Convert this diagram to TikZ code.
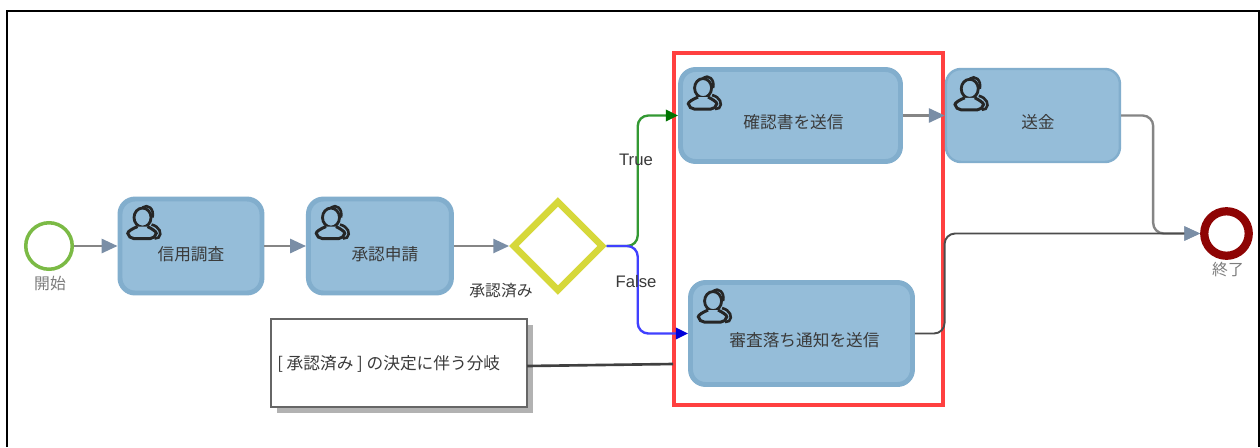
\documentclass[tikz,border=0pt]{standalone}
\usepackage{fontspec}
\setmainfont{Liberation Sans}
\newfontfamily\cjk{Noto Sans CJK JP}
\usetikzlibrary{positioning, arrows.meta, shapes.geometric, shadows}
\definecolor{taskfill}{HTML}{95BDD9}
\definecolor{taskline}{HTML}{82AECD}
\definecolor{tipgray}{HTML}{7A8EA6}
\definecolor{linegray}{HTML}{858585}
\definecolor{gatecolor}{HTML}{D6D83A}
\definecolor{startcolor}{HTML}{7BBA45}
\definecolor{endcolor}{HTML}{8E0404}
\definecolor{textgray}{HTML}{3A3A3A}
\definecolor{labelgray}{HTML}{7C7C7C}
\tikzset{
    task/.style={rectangle, rounded corners=8.5pt, draw=taskline, fill=taskfill, line width=2.8pt, inner sep=0pt},
    tasktext/.style={font=\cjk\fontsize{9.5pt}{12pt}\selectfont, text=textgray, inner sep=0pt},
    caption/.style={font=\cjk\fontsize{9pt}{12pt}\selectfont, text=labelgray, inner sep=0pt},
    branch/.style={font=\fontsize{9.5pt}{12pt}\selectfont, text=textgray, inner sep=0pt},
    flow/.style={draw=linegray, line width=1.35pt, rounded corners=6pt, -{Triangle[length=9pt,width=8pt,color=tipgray]}},
    usericon/.pic={
        \draw[black!85, line width=1.5pt]
            (24,10) .. controls (29,6) and (36,11) .. (34,20)
            (33,27) .. controls (41,29) and (44,36) .. (40,40) -- (36,41);
        \draw[black!85, line width=1.6pt, fill=taskfill] (24,20) ellipse [x radius=8.5, y radius=9.5];
        \draw[black!85, line width=1.7pt, rounded corners=3pt, fill=taskfill]
            (19,29) .. controls (14,31) and (9,34) .. (10,41) -- (37,41) .. controls (38,34) and (33,31) .. (29,29);
    }
}
\begin{document}
\begin{tikzpicture}[x=0.02cm, y=-0.02cm]
    \useasboundingbox (0,0) rectangle (1260,447);
    \fill[white] (0,0) rectangle (1260,447);
    \draw[black, line width=0.7pt] (7,447) -- (7,11) -- (1259,11) -- (1259,447);

    \node[draw=red!75!white, line width=1.8pt, minimum width=5.38cm, minimum height=7.04cm, inner sep=0pt] (redframe) at (808.5,229) {};

    \node[circle, draw=startcolor, fill=white, line width=2pt, minimum size=0.93cm, inner sep=0pt] (start) at (49,246) {};
    \node[task, minimum width=2.84cm, minimum height=1.88cm, label={[tasktext, shift={(0,-0.16cm)}]center:信用調査}] (credit) [right of=start, node distance=2.84cm] {};
    \node[task, minimum width=2.86cm, minimum height=1.88cm, label={[tasktext, shift={(0.1cm,-0.16cm)}]center:承認申請}] (apply) [right of=credit, node distance=3.78cm] {};
    \node[diamond, draw=gatecolor, fill=white, line width=3.8pt, minimum width=1.82cm, minimum height=1.82cm, inner sep=0pt] (gate) [right of=apply, node distance=3.56cm] {};
    \node[task, minimum width=4.4cm, minimum height=1.84cm, label={[tasktext, shift={(0.06cm,-0.14cm)}]center:確認書を送信}] (confirm) at (790.5,115.5) {};
    \node[task, line width=1.4pt, minimum width=3.48cm, minimum height=1.86cm, label={[tasktext, shift={(0.1cm,-0.14cm)}]center:送金}] (remit) [right of=confirm, node distance=4.85cm] {};
    \node[task, minimum width=4.44cm, minimum height=2.04cm, label={[tasktext, shift={(0.06cm,-0.14cm)}]center:審査落ち通知を送信}] (reject) at (801.5,333.5) {};
    \node[circle, draw=endcolor, fill=white, line width=4.7pt, minimum size=0.89cm, inner sep=0pt] (finish) at (1226.5,233.5) {};
    \node[rectangle, draw=black!60, fill=white, line width=1.1pt, minimum width=5.12cm, minimum height=1.76cm, inner sep=0pt,
        drop shadow={shadow xshift=3.2pt, shadow yshift=-3.2pt, fill=black!60, opacity=0.5}] (note) at (399,363) {};
    \node[tasktext, anchor=west] (notetext) at (277,364) {{[}\ 承認済み\ {]}\ の決定に伴う分岐};

    \foreach \t in {credit, apply, confirm, remit, reject}
        \pic at ([shift={(1,1)}]\t.north west) {usericon};

    \coordinate (noteout) at (527,366);
    \coordinate (notein) at (673,364);

    \path[flow]
        (start) edge (credit)
        (credit) edge (apply)
        (apply) edge (gate)
        (confirm) edge (remit);
    \draw[flow] (remit.east) -- ++(32,0) |- (finish.west);
    \draw[flow, draw=black!70, line width=1.1pt] (reject.east) -| (redframe.east |- finish.west) -- (finish.west);
    \draw[flow, draw=green!50!black!80!white, -{Triangle[length=7pt,width=6.5pt,color=green!45!black]}] (gate.east) -- ++(31,0) |- (confirm.west);
    \draw[flow, draw=blue!75!white, -{Triangle[length=7pt,width=6.5pt,color=blue!85!black]}] (gate.east) -- ++(31,0) |- (reject.west);
    \draw[black!75, line width=1.5pt] (noteout) -- (notein);

    \node[caption] (startlabel) at (50,283) {開始};
    \node[caption] (finishlabel) at (1228,270) {終了};
    \node[tasktext, font=\cjk\fontsize{9pt}{12pt}\selectfont] (gatelabel) at (501,291) {承認済み};
    \node[branch] (truelabel) at (636,160) {True};
    \node[branch] (falselabel) at (636,282) {False};
\end{tikzpicture}
\end{document}
